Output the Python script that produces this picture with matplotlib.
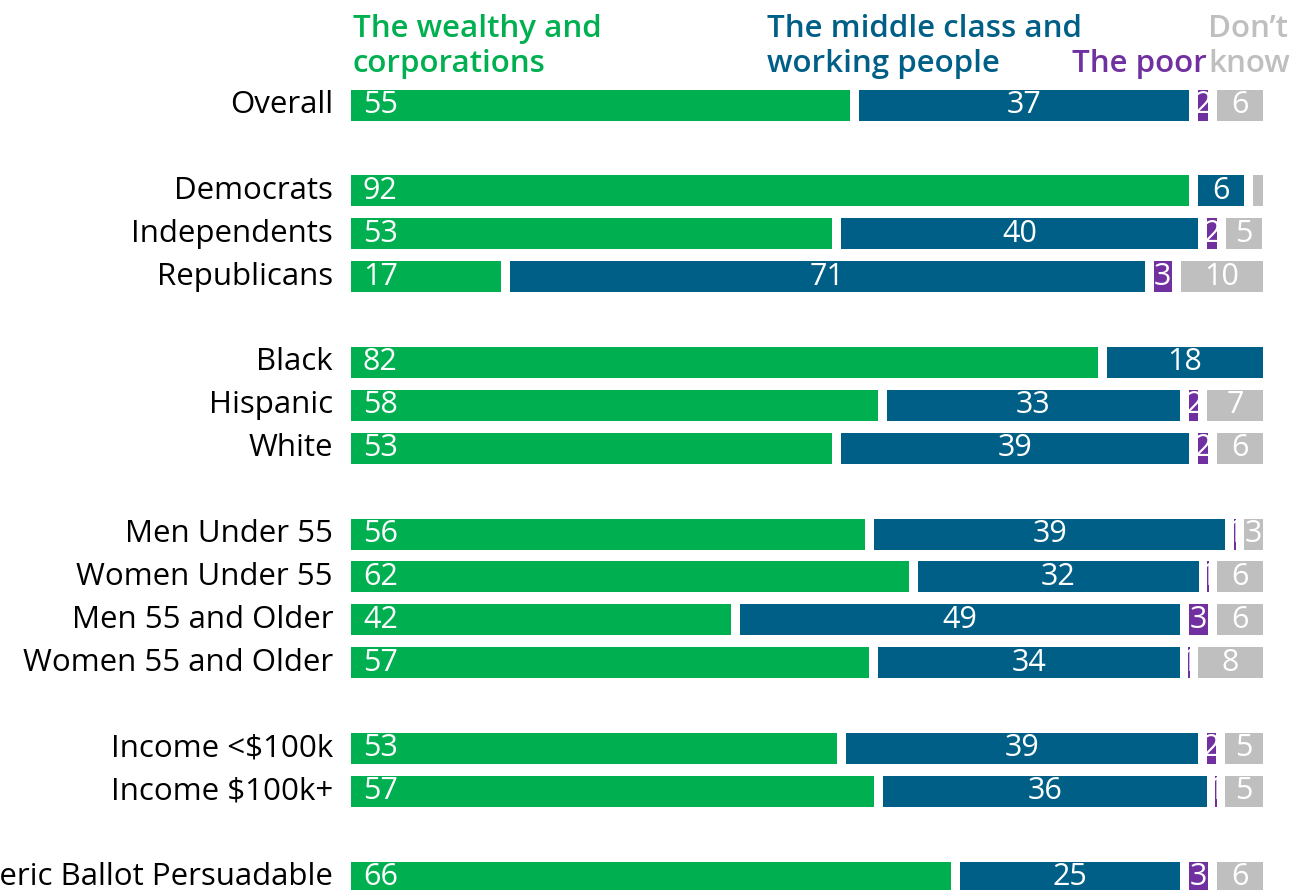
import matplotlib
matplotlib.use("Agg")
import matplotlib.pyplot as plt

# ---- data ----
categories = ["Overall", "Democrats", "Independents", "Republicans",
              "Black", "Hispanic", "White",
              "Men Under 55", "Women Under 55", "Men 55 and Older", "Women 55 and Older",
              "Income <$100k", "Income $100k+", "Generic Ballot Persuadable"]
positions = [0, 2, 3, 4, 6, 7, 8, 10, 11, 12, 13, 15, 16, 18]
wealthy = [55, 92, 53, 17, 82, 58, 53, 56, 62, 42, 57, 53, 57, 66]
middle = [37, 6, 40, 71, 18, 33, 39, 39, 32, 49, 34, 39, 36, 25]
poor = [2, 0, 2, 3, 0, 2, 2, 1, 1, 3, 1, 2, 1, 3]
dontknow = [6, 2, 5, 10, 0, 7, 6, 3, 6, 6, 8, 5, 5, 6]
hidden_labels = [("Democrats", 3)]
series_names = ["The wealthy and\ncorporations", "The middle class and\nworking people",
                "The poor", "Don\u2019t\nknow"]
colors = ["#00B050", "#005F87", "#7030A0", "#BFBFBF"]

W, H = 1294, 890
fig = plt.figure(figsize=(W / 100, H / 100), dpi=100)
ax = fig.add_axes([0, 0, 1, 1])
ax.axis("off")

x0_px = 351.0
scale = 9.16  # px per percent
ax.set_xlim(-x0_px / scale, (W - x0_px) / scale)
y0_px, pitch = 105.0, 42.9
ax.set_ylim((H - y0_px) / pitch, -y0_px / pitch)

gap = 9.0 / scale
minw = 1.8 / scale
bar_h = 31.0 / pitch
FONT = ["Open Sans", "DejaVu Sans"]
fs_lab = 22.5
fs_num = 22

series = [wealthy, middle, poor, dontknow]
for i, pos in enumerate(positions):
    total = sum(s[i] for s in series)
    norm = 100.0 / total
    cum = 0.0
    for k, vals in enumerate(series):
        v = vals[i]
        if v <= 0:
            continue
        vn = v * norm
        start = cum if k == 0 else cum + gap / 2
        end = cum + vn - gap / 2
        width = end - start
        if width < minw:
            start = cum + vn / 2 - minw / 2
            width = minw
        ax.barh(pos, width, left=start, height=bar_h, color=colors[k], linewidth=0)
        if (categories[i], k) not in hidden_labels:
            if k == 0:
                ax.text(start + 12 / scale, pos, str(v), ha="left", va="center",
                        color="white", fontsize=fs_num, family=FONT)
            else:
                ax.text(start + width / 2, pos, str(v), ha="center", va="center",
                        color="white", fontsize=fs_num, family=FONT)
        cum += vn
    ax.text(-18 / scale, pos, categories[i], ha="right", va="center",
            color="black", fontsize=fs_lab, family=FONT)

# headers (x, baseline of last line in px)
hdr = [(353, 72, series_names[0], colors[0]),
       (767, 72, series_names[1], colors[1]),
       (1072, 72, series_names[2], colors[2]),
       (1208, 72, series_names[3], colors[3])]
for px, py, txt, c in hdr:
    fig.text(px / W, 1 - py / H, txt, ha="left", va="baseline", color=c,
             fontsize=22.5, family=FONT, fontweight="semibold", linespacing=1.21)

fig.savefig("out.png", dpi=100)
